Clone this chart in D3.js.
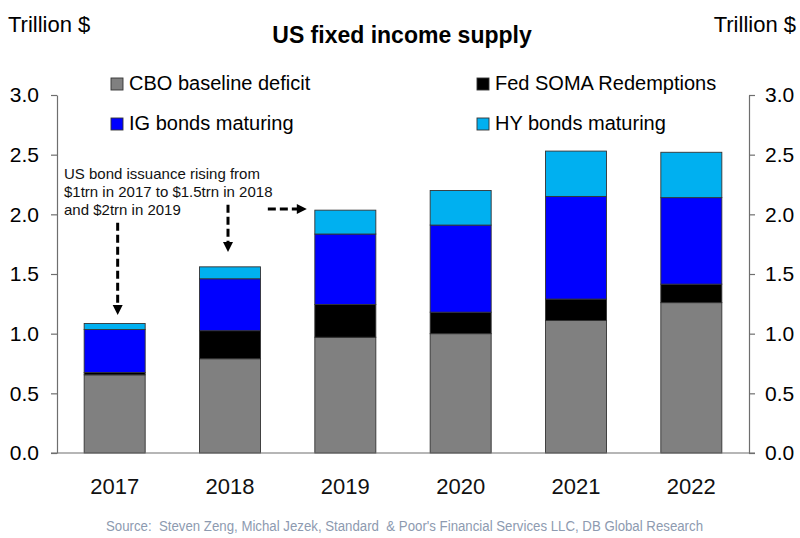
<!DOCTYPE html>
<html>
<head>
<meta charset="utf-8">
<script src="https://cdn.jsdelivr.net/npm/d3@7"></script>
<style>
  html, body { margin: 0; padding: 0; background: #fff; }
  svg { display: block; font-family: "Liberation Sans", Arial, sans-serif; }
</style>
</head>
<body>
<svg id="chart" width="800" height="538"></svg>
<script>
// ---- Data ----
const years = ["2017", "2018", "2019", "2020", "2021", "2022"];
const cboDeficit = [0.655, 0.79, 0.97, 1.0, 1.11, 1.26];
const fedSoma = [0.02, 0.235, 0.275, 0.18, 0.18, 0.155];
const igMaturing = [0.36, 0.435, 0.59, 0.73, 0.86, 0.725];
const hyMaturing = [0.05, 0.10, 0.20, 0.29, 0.38, 0.38];
const seriesNames = ["CBO baseline deficit", "Fed SOMA Redemptions", "IG bonds maturing", "HY bonds maturing"];
const yTicks = [0, 0.5, 1.0, 1.5, 2.0, 2.5, 3.0];

const keys = ["cbo", "fed", "ig", "hy"];
const colors = { cbo: "#808080", fed: "#000000", ig: "#0000ff", hy: "#00b0f0" };
const table = years.map((yr, i) => ({ year: yr, cbo: cboDeficit[i], fed: fedSoma[i], ig: igMaturing[i], hy: hyMaturing[i] }));

const svg = d3.select("#chart");
const plotL = 57, plotR = 749, plotT = 95, plotB = 453;

const x = d3.scaleBand().domain(years).range([plotL, plotR]).paddingInner(0.471).paddingOuter(0.2355);
const y = d3.scaleLinear().domain([0, 3]).range([plotB, plotT]);

// Bars
const stacked = d3.stack().keys(keys)(table);
svg.append("g").selectAll("g").data(stacked).join("g")
  .attr("fill", d => colors[d.key])
  .selectAll("rect").data(d => d).join("rect")
  .attr("x", d => x(d.data.year))
  .attr("width", x.bandwidth())
  .attr("y", d => y(d[1]))
  .attr("height", d => y(d[0]) - y(d[1]))
  .attr("stroke", "#333")
  .attr("stroke-width", 0.9);

// Axes
const axisColor = "#6e6e6e";
const fmt = d3.format(".1f");
const gl = svg.append("g").attr("transform", `translate(${plotL},0)`)
  .call(d3.axisLeft(y).tickValues(yTicks).tickFormat(fmt).tickSize(6).tickSizeOuter(0).tickPadding(12));
const gr = svg.append("g").attr("transform", `translate(${plotR},0)`)
  .call(d3.axisRight(y).tickValues(yTicks).tickFormat(fmt).tickSize(6).tickSizeOuter(0).tickPadding(10));
[gl, gr].forEach(g => {
  g.select(".domain").attr("stroke", axisColor).attr("stroke-width", 1.2);
  g.selectAll(".tick line").attr("stroke", axisColor).attr("stroke-width", 1.2);
  g.selectAll(".tick text").attr("fill", "#000").style("font-size", "21px").style("font-family", "Liberation Sans, Arial, sans-serif");
});
// baseline
svg.append("line").attr("x1", plotL - 6).attr("x2", plotR + 6).attr("y1", y(0)).attr("y2", y(0))
  .attr("stroke", axisColor).attr("stroke-width", 1.2);

// X labels
svg.append("g").selectAll("text").data(years).join("text")
  .attr("x", d => x(d) + x.bandwidth() / 2)
  .attr("y", 494)
  .attr("text-anchor", "middle")
  .style("font-size", "22px")
  .attr("fill", "#111")
  .text(d => d);

// Titles
svg.append("text").attr("x", 402).attr("y", 43).attr("text-anchor", "middle")
  .style("font-size", "23px").style("font-weight", "bold").attr("fill", "#000").text("US fixed income supply");
svg.append("text").attr("x", 8).attr("y", 32).style("font-size", "22px").attr("fill", "#000").text("Trillion $");
svg.append("text").attr("x", 796).attr("y", 32).attr("text-anchor", "end").style("font-size", "22px").attr("fill", "#000").text("Trillion $");

// Legend
const legendPos = [
  { key: "cbo", lx: 111, ly: 90 },
  { key: "fed", lx: 477, ly: 90 },
  { key: "ig", lx: 111, ly: 130 },
  { key: "hy", lx: 477, ly: 130 }
];
const lg = svg.append("g").selectAll("g").data(legendPos).join("g");
lg.append("rect").attr("x", d => d.lx).attr("y", d => d.ly - 12).attr("width", 12).attr("height", 12)
  .attr("fill", d => colors[d.key]).attr("stroke", "#333").attr("stroke-width", 0.9);
lg.append("text").attr("x", d => d.lx + 18).attr("y", d => d.ly).style("font-size", "20px").attr("fill", "#000")
  .text(d => seriesNames[keys.indexOf(d.key)]);

// Annotation
const noteLines = ["US bond issuance rising from", "$1trn in 2017 to $1.5trn in 2018", "and $2trn in 2019"];
svg.append("g").selectAll("text").data(noteLines).join("text")
  .attr("x", 64).attr("y", (d, i) => 179 + i * 18)
  .style("font-size", "15px").attr("fill", "#111").text(d => d);

function vArrow(cx, y1, y2) {
  svg.append("line").attr("x1", cx).attr("x2", cx).attr("y1", y1).attr("y2", y2 - 9)
    .attr("stroke", "#000").attr("stroke-width", 3).attr("stroke-dasharray", "8,4");
  svg.append("path").attr("d", `M${cx - 5},${y2 - 10}L${cx + 5},${y2 - 10}L${cx},${y2}Z`).attr("fill", "#000");
}
function hArrow(cy, x1, x2) {
  svg.append("line").attr("x1", x1).attr("x2", x2 - 9).attr("y1", cy).attr("y2", cy)
    .attr("stroke", "#000").attr("stroke-width", 3).attr("stroke-dasharray", "8,4");
  svg.append("path").attr("d", `M${x2 - 10},${cy - 5}L${x2 - 10},${cy + 5}L${x2},${cy}Z`).attr("fill", "#000");
}
const c2017 = x("2017") + x.bandwidth() / 2;
const c2018 = x("2018") + x.bandwidth() / 2;
vArrow(c2017 + 3, y(1.93), y(1.156));
vArrow(c2018 - 2, y(2.08), y(1.684));
hArrow(y(2.045), x("2019") - 47, x("2019") - 8);

// Source
svg.append("text").attr("x", 106).attr("y", 531)
  .attr("textLength", 597).attr("lengthAdjust", "spacingAndGlyphs")
  .style("font-size", "14px").style("white-space", "pre").attr("fill", "#8d9ab0")
  .text("Source:  Steven Zeng, Michal Jezek, Standard  & Poor's Financial Services LLC, DB Global Research");
</script>
</body>
</html>
